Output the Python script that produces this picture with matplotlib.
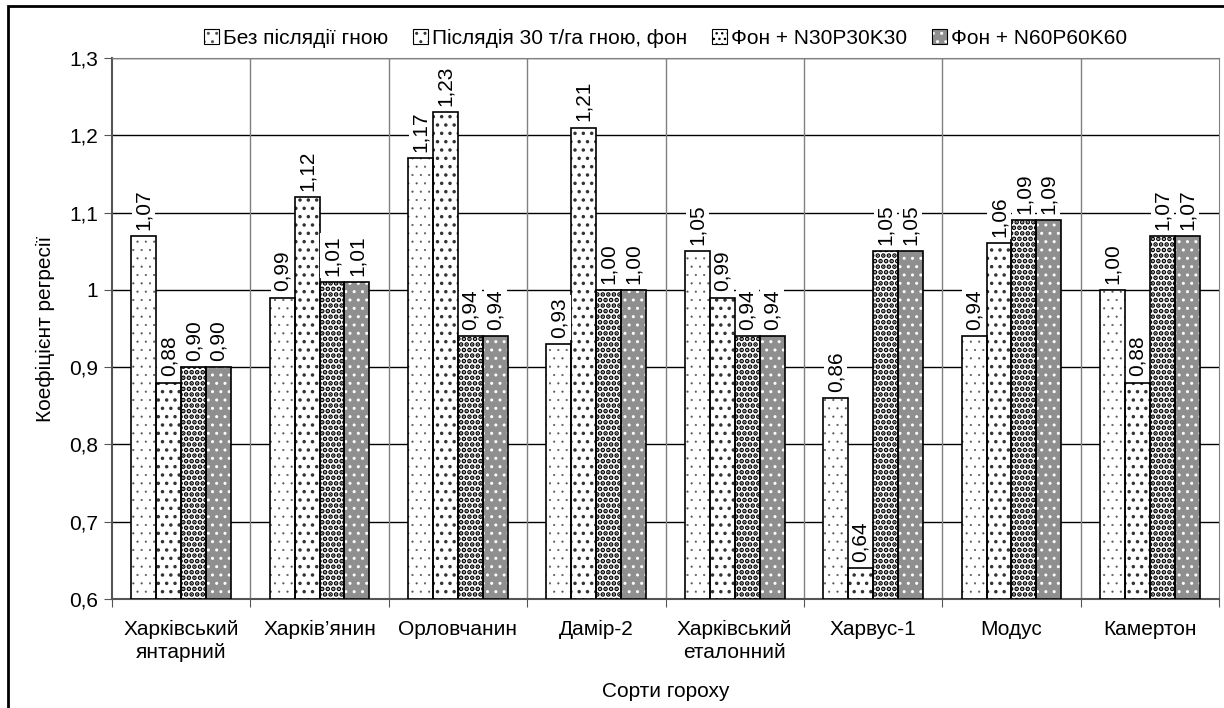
import numpy as np
import matplotlib as mpl
import matplotlib.pyplot as plt
from matplotlib.patches import Rectangle
from matplotlib.legend_handler import HandlerTuple

plt.rcParams['font.family'] = ['Liberation Sans', 'DejaVu Sans']
FS = 15

cultivars = ['Харківський\nянтарний', 'Харків’янин', 'Орловчанин', 'Дамір-2',
             'Харківський\nеталонний', 'Харвус-1', 'Модус', 'Камертон']
no_manure = [1.07, 0.99, 1.17, 0.93, 1.05, 0.86, 0.94, 1.00]
manure_30 = [0.88, 1.12, 1.23, 1.21, 0.99, 0.64, 1.06, 0.88]
npk_30 = [0.90, 1.01, 0.94, 1.00, 0.94, 1.05, 1.09, 1.07]
npk_60 = [0.90, 1.01, 0.94, 1.00, 0.94, 1.05, 1.09, 1.07]

series = [no_manure, manure_30, npk_30, npk_60]
names = ['Без післядії гною', 'Післядія 30 т/га гною, фон',
         'Фон + N30P30K30', 'Фон + N60P60K60']
# fill colour, hatch pattern, hatch colour, hatch line width
styles = [('white', '..', '#555555', 0.3),
          ('white', '..', '#333333', 1.3),
          ('white', '...', 'black', 2.4),
          ('#8f8f8f', '..', 'white', 1.0)]

fig = plt.figure(figsize=(12.24, 7.08), dpi=100)
fig.patches.append(Rectangle((8 / 1224, -0.1), 1.2, 1.1 - 6 / 708,
                             transform=fig.transFigure, fill=False,
                             edgecolor='black', linewidth=2))
ax = fig.add_axes([112 / 1224, 1 - 599 / 708, (1219 - 112) / 1224, (599 - 58) / 708])

x = np.arange(len(cultivars))
w = 0.18
offsets = (np.arange(4) - 1.5) * w
handles = []
for vals, name, (fc, hatch, hc, hlw), off in zip(series, names, styles, offsets):
    heights = np.array(vals) - 0.6
    # hatch takes the edge colour, so fill and outline are drawn separately
    with mpl.rc_context({'hatch.linewidth': hlw}):
        fills = ax.bar(x + off, heights, w, bottom=0.6, facecolor=fc, edgecolor=hc,
                       linewidth=0, hatch=hatch, zorder=3)
        fill_h = Rectangle((0, 0), 1, 1, facecolor=fc, edgecolor=hc,
                           hatch=hatch, linewidth=0)
    if hasattr(fill_h, 'set_hatch_linewidth'):
        fill_h.set_hatch_linewidth(hlw)
        for p in fills:
            p.set_hatch_linewidth(hlw)
    bars = ax.bar(x + off, heights, w, bottom=0.6, fill=False,
                  edgecolor='black', linewidth=1.2, zorder=3.5)
    edge_h = Rectangle((0, 0), 1, 1, fill=False, edgecolor='black', linewidth=0.8)
    handles.append((fill_h, edge_h))
    for b, v in zip(bars, vals):
        ax.text(b.get_x() + b.get_width() / 2, v + 0.008, f'{v:.2f}'.replace('.', ','),
                rotation=90, ha='center', va='bottom', fontsize=FS, zorder=4,
                bbox=dict(facecolor='white', edgecolor='none', pad=1.5))

ax.set_xlim(-0.5, len(cultivars) - 0.5)
ax.set_ylim(0.6, 1.3)
ax.set_yticks(np.arange(0.6, 1.31, 0.1))
ax.set_yticklabels(['0,6', '0,7', '0,8', '0,9', '1', '1,1', '1,2', '1,3'], fontsize=FS)
ax.yaxis.grid(True, color='black', linewidth=1, zorder=0)
ax.set_axisbelow(True)
for b in np.arange(0.5, len(cultivars) - 0.5):
    ax.axvline(b, color='#808080', linewidth=1, zorder=1)

ax.set_xticks(np.arange(-0.5, len(cultivars)), minor=False)
ax.set_xticklabels([])
ax.set_xticks(x, minor=True)
ax.set_xticklabels(cultivars, minor=True, fontsize=FS, linespacing=1.25)
ax.tick_params(axis='x', which='minor', length=0, pad=15)
ax.tick_params(axis='x', which='major', length=6, color='#555555')
ax.tick_params(axis='y', length=6, color='#555555', pad=4)

for side in ['top', 'right']:
    ax.spines[side].set_color('#808080')
for side in ['left', 'bottom']:
    ax.spines[side].set_color('#555555')
    ax.spines[side].set_linewidth(1.5)

ax.set_ylabel('Коефіцієнт регресії', fontsize=FS, labelpad=10)
ax.set_xlabel('Сорти гороху', fontsize=FS, labelpad=15)

ax.legend(handles, names, handler_map={tuple: HandlerTuple(ndivide=1)},
          loc='lower center', bbox_to_anchor=(0.5, 1.0), ncol=4,
          frameon=False, fontsize=FS, handlelength=0.7, handleheight=0.7,
          handletextpad=0.2, columnspacing=1.2, borderaxespad=0.1)

fig.savefig('out.png', dpi=100)
